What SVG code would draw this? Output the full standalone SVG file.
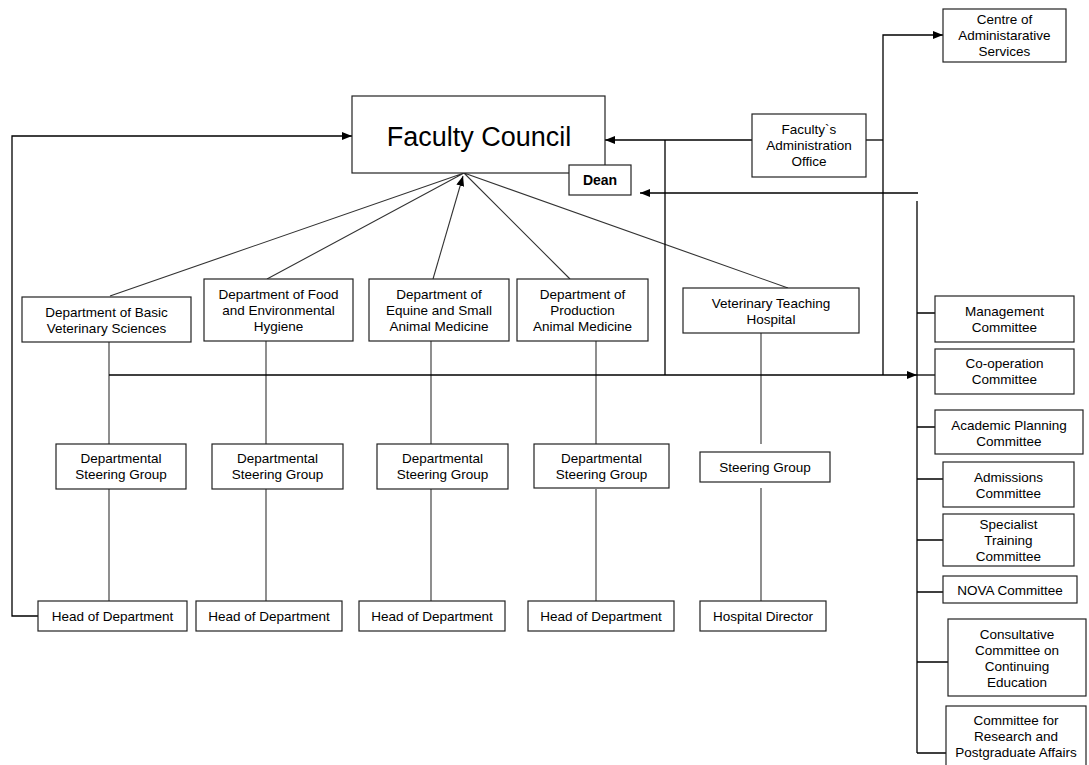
<svg xmlns="http://www.w3.org/2000/svg" width="1089" height="765" viewBox="0 0 1089 765">
<defs>
<marker id="ah" markerWidth="10" markerHeight="8" refX="10" refY="4" orient="auto" markerUnits="userSpaceOnUse">
<path d="M0,0 L10,4 L0,8 Z" fill="#000"/>
</marker>
<style>
.box{fill:#fff;stroke:#222;stroke-width:1.2}
.t{font-family:"Liberation Sans",Arial,sans-serif;font-size:13.5px;fill:#000;text-anchor:middle}
.big{font-size:27px}
.b{font-weight:bold;font-size:14px}
.c{fill:none;stroke:#000;stroke-width:1.3}
.cl{fill:none;stroke:#333;stroke-width:1.1}
</style>
</defs>
<rect width="1089" height="765" fill="#fff"/>
<g id="connectors">
<path class="cl" d="M464,173 L110,296 M464,173 L267,279 M464,173 L570,279 M464,173 L788,288"/>
<path class="cl" d="M433,279 L463,176" marker-end="url(#ah)"/>
<path class="cl" d="M109,342 V444 M109,489 V601 M266,341 V444 M266,489 V601 M431,341 V444 M431,489 V601 M596,341 V444 M596,489 V601 M761,333 V444 M761,488 V601"/>
<path class="c" d="M109,375 H917" marker-end="url(#ah)"/>
<path class="c" d="M917,375 H935"/>
<path class="c" d="M665,140 V375 M883,140 V375"/>
<path class="c" d="M752,140 H605" marker-end="url(#ah)"/>
<path class="c" d="M866,140 H883"/>
<path class="c" d="M883,140 V35 H943" marker-end="url(#ah)"/>
<path class="c" d="M918,193 H640" marker-end="url(#ah)"/>
<path class="c" d="M917,201 V753"/>
<path class="c" d="M917,313 H935 M917,427 H935 M917,479 H943 M917,540 H943 M917,592 H943 M917,662 H948 M917,753 H948"/>
<path class="c" d="M38,616 H12 V136 H352" marker-end="url(#ah)"/>
</g>
<g id="faculty-council"><rect class="box" x="352" y="96" width="253" height="77"/><text class="t big" x="479" y="146">Faculty Council</text></g>
<g id="dean"><rect class="box" x="569" y="165" width="62" height="30"/><text class="t b" x="600" y="185">Dean</text></g>
<g id="admin-office"><rect class="box" x="752" y="114" width="114" height="63"/><text class="t" x="809" y="134">Faculty`s</text><text class="t" x="809" y="150">Administration</text><text class="t" x="809" y="166">Office</text></g>
<g id="centre"><rect class="box" x="943" y="9" width="123" height="53"/><text class="t" x="1004.5" y="24">Centre of</text><text class="t" x="1004.5" y="40">Administarative</text><text class="t" x="1004.5" y="56">Services</text></g>
<g id="dept-basic"><rect class="box" x="22" y="297" width="169" height="45"/><text class="t" x="106.5" y="317">Department of Basic</text><text class="t" x="106.5" y="333">Veterinary Sciences</text></g>
<g id="dept-food"><rect class="box" x="204" y="279" width="149" height="62"/><text class="t" x="278.5" y="299">Department of Food</text><text class="t" x="278.5" y="315">and Environmental</text><text class="t" x="278.5" y="331">Hygiene</text></g>
<g id="dept-equine"><rect class="box" x="369" y="279" width="140" height="62"/><text class="t" x="439" y="299">Department of</text><text class="t" x="439" y="315">Equine and Small</text><text class="t" x="439" y="331">Animal Medicine</text></g>
<g id="dept-production"><rect class="box" x="517" y="279" width="131" height="62"/><text class="t" x="582.5" y="299">Department of</text><text class="t" x="582.5" y="315">Production</text><text class="t" x="582.5" y="331">Animal Medicine</text></g>
<g id="hospital"><rect class="box" x="683" y="288" width="176" height="45"/><text class="t" x="771" y="308">Veterinary Teaching</text><text class="t" x="771" y="324">Hospital</text></g>
<g id="dsg1"><rect class="box" x="56" y="444" width="130" height="45"/><text class="t" x="121" y="463">Departmental</text><text class="t" x="121" y="479">Steering Group</text></g>
<g id="dsg2"><rect class="box" x="212" y="444" width="131" height="45"/><text class="t" x="277.5" y="463">Departmental</text><text class="t" x="277.5" y="479">Steering Group</text></g>
<g id="dsg3"><rect class="box" x="377" y="444" width="131" height="45"/><text class="t" x="442.5" y="463">Departmental</text><text class="t" x="442.5" y="479">Steering Group</text></g>
<g id="dsg4"><rect class="box" x="534" y="444" width="135" height="44"/><text class="t" x="601.5" y="463">Departmental</text><text class="t" x="601.5" y="479">Steering Group</text></g>
<g id="steering"><rect class="box" x="700" y="452" width="130" height="30"/><text class="t" x="765" y="472">Steering Group</text></g>
<g id="hod1"><rect class="box" x="38" y="601" width="149" height="30"/><text class="t" x="112.5" y="621">Head of Department</text></g>
<g id="hod2"><rect class="box" x="196" y="601" width="146" height="30"/><text class="t" x="269" y="621">Head of Department</text></g>
<g id="hod3"><rect class="box" x="359" y="601" width="146" height="30"/><text class="t" x="432" y="621">Head of Department</text></g>
<g id="hod4"><rect class="box" x="528" y="601" width="146" height="30"/><text class="t" x="601" y="621">Head of Department</text></g>
<g id="hospital-director"><rect class="box" x="700" y="601" width="126" height="30"/><text class="t" x="763" y="621">Hospital Director</text></g>
<g id="management"><rect class="box" x="935" y="296" width="139" height="46"/><text class="t" x="1004.5" y="316">Management</text><text class="t" x="1004.5" y="332">Committee</text></g>
<g id="cooperation"><rect class="box" x="935" y="349" width="139" height="45"/><text class="t" x="1004.5" y="368">Co-operation</text><text class="t" x="1004.5" y="384">Committee</text></g>
<g id="academic"><rect class="box" x="935" y="410" width="148" height="44"/><text class="t" x="1009" y="430">Academic Planning</text><text class="t" x="1009" y="446">Committee</text></g>
<g id="admissions"><rect class="box" x="943" y="462" width="131" height="45"/><text class="t" x="1008.5" y="482">Admissions</text><text class="t" x="1008.5" y="498">Committee</text></g>
<g id="specialist"><rect class="box" x="943" y="514" width="131" height="52"/><text class="t" x="1008.5" y="529">Specialist</text><text class="t" x="1008.5" y="545">Training</text><text class="t" x="1008.5" y="561">Committee</text></g>
<g id="nova"><rect class="box" x="943" y="576" width="134" height="27"/><text class="t" x="1010" y="595">NOVA Committee</text></g>
<g id="consultative"><rect class="box" x="948" y="619" width="138" height="77"/><text class="t" x="1017" y="639">Consultative</text><text class="t" x="1017" y="655">Committee on</text><text class="t" x="1017" y="671">Continuing</text><text class="t" x="1017" y="687">Education</text></g>
<g id="research"><rect class="box" x="946" y="706" width="140" height="62"/><text class="t" x="1016" y="725">Committee for</text><text class="t" x="1016" y="741">Research and</text><text class="t" x="1016" y="757">Postgraduate Affairs</text></g>
</svg>
